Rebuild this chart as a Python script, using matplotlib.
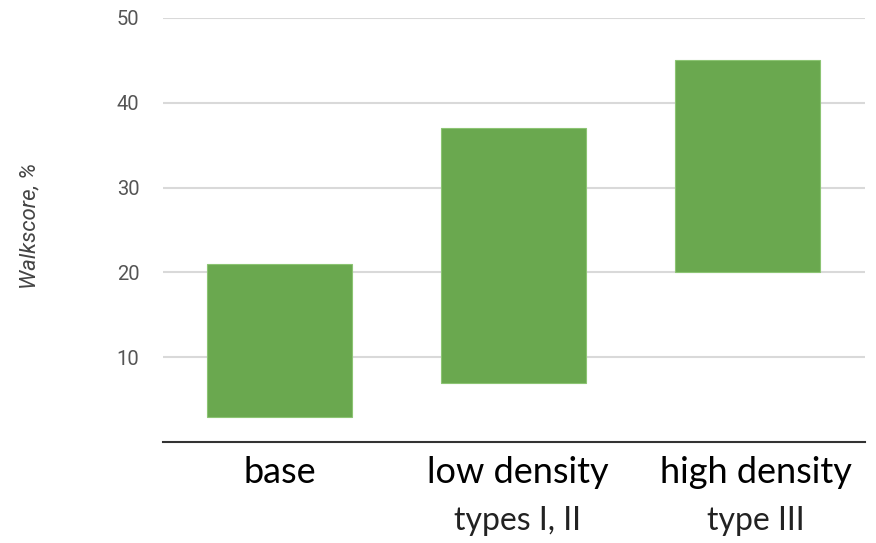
import matplotlib.pyplot as plt
import numpy as np

# floating ranges of walkscore per development scenario
categories = ["base", "low density", "high density"]
subtitles = ["", "types I, II", "type III"]
range_low = [3, 7, 20]
range_high = [21, 37, 45]
y_ticks = [10, 20, 30, 40, 50]

bar_color = "#6aa84f"


def plot_ranges():
    fig = plt.figure(figsize=(8.76, 5.43), dpi=100)
    ax = fig.add_axes([0.186, 0.186, 0.801, 0.781])

    x = np.arange(len(categories))
    heights = np.array(range_high) - np.array(range_low)
    ax.bar(x, heights, bottom=range_low, width=0.62, color=bar_color,
           edgecolor="#8cc473", linewidth=0.8, zorder=3)

    ax.set_xlim(-0.5, len(categories) - 0.5)
    ax.set_ylim(0, 50)
    ax.set_yticks(y_ticks)
    ax.set_yticklabels([str(t) for t in y_ticks], fontsize=14.5,
                       color="#555555", family="Roboto")
    ax.tick_params(axis="y", length=0, pad=17)
    ax.yaxis.grid(True, color="#d9d9d9", linewidth=1.5, zorder=0)

    ax.set_xticks([])
    for side in ("left", "right", "top"):
        ax.spines[side].set_visible(False)
    ax.spines["bottom"].set_color("#333333")
    ax.spines["bottom"].set_linewidth(1.5)

    # two-line category labels below the axis
    for xi, name, sub in zip(x, categories, subtitles):
        ax.annotate(name, xy=(xi, 0), xycoords=("data", "axes fraction"),
                    xytext=(3 * xi, -10), textcoords="offset points",
                    ha="center", va="top", fontsize=26, family="Lato",
                    color="black")
        if sub:
            ax.annotate(sub, xy=(xi, 0), xycoords=("data", "axes fraction"),
                        xytext=(3 * xi, -46), textcoords="offset points",
                        ha="center", va="top", fontsize=23, family="Lato",
                        color="#222222")

    fig.text(30 / 876, 1 - 226 / 543, "Walkscore, %", rotation=90,
             ha="center", va="center", fontsize=16, style="italic",
             color="#444444", family="Roboto")

    return fig


if __name__ == "__main__":
    fig = plot_ranges()
    fig.savefig("out.png", dpi=100)
